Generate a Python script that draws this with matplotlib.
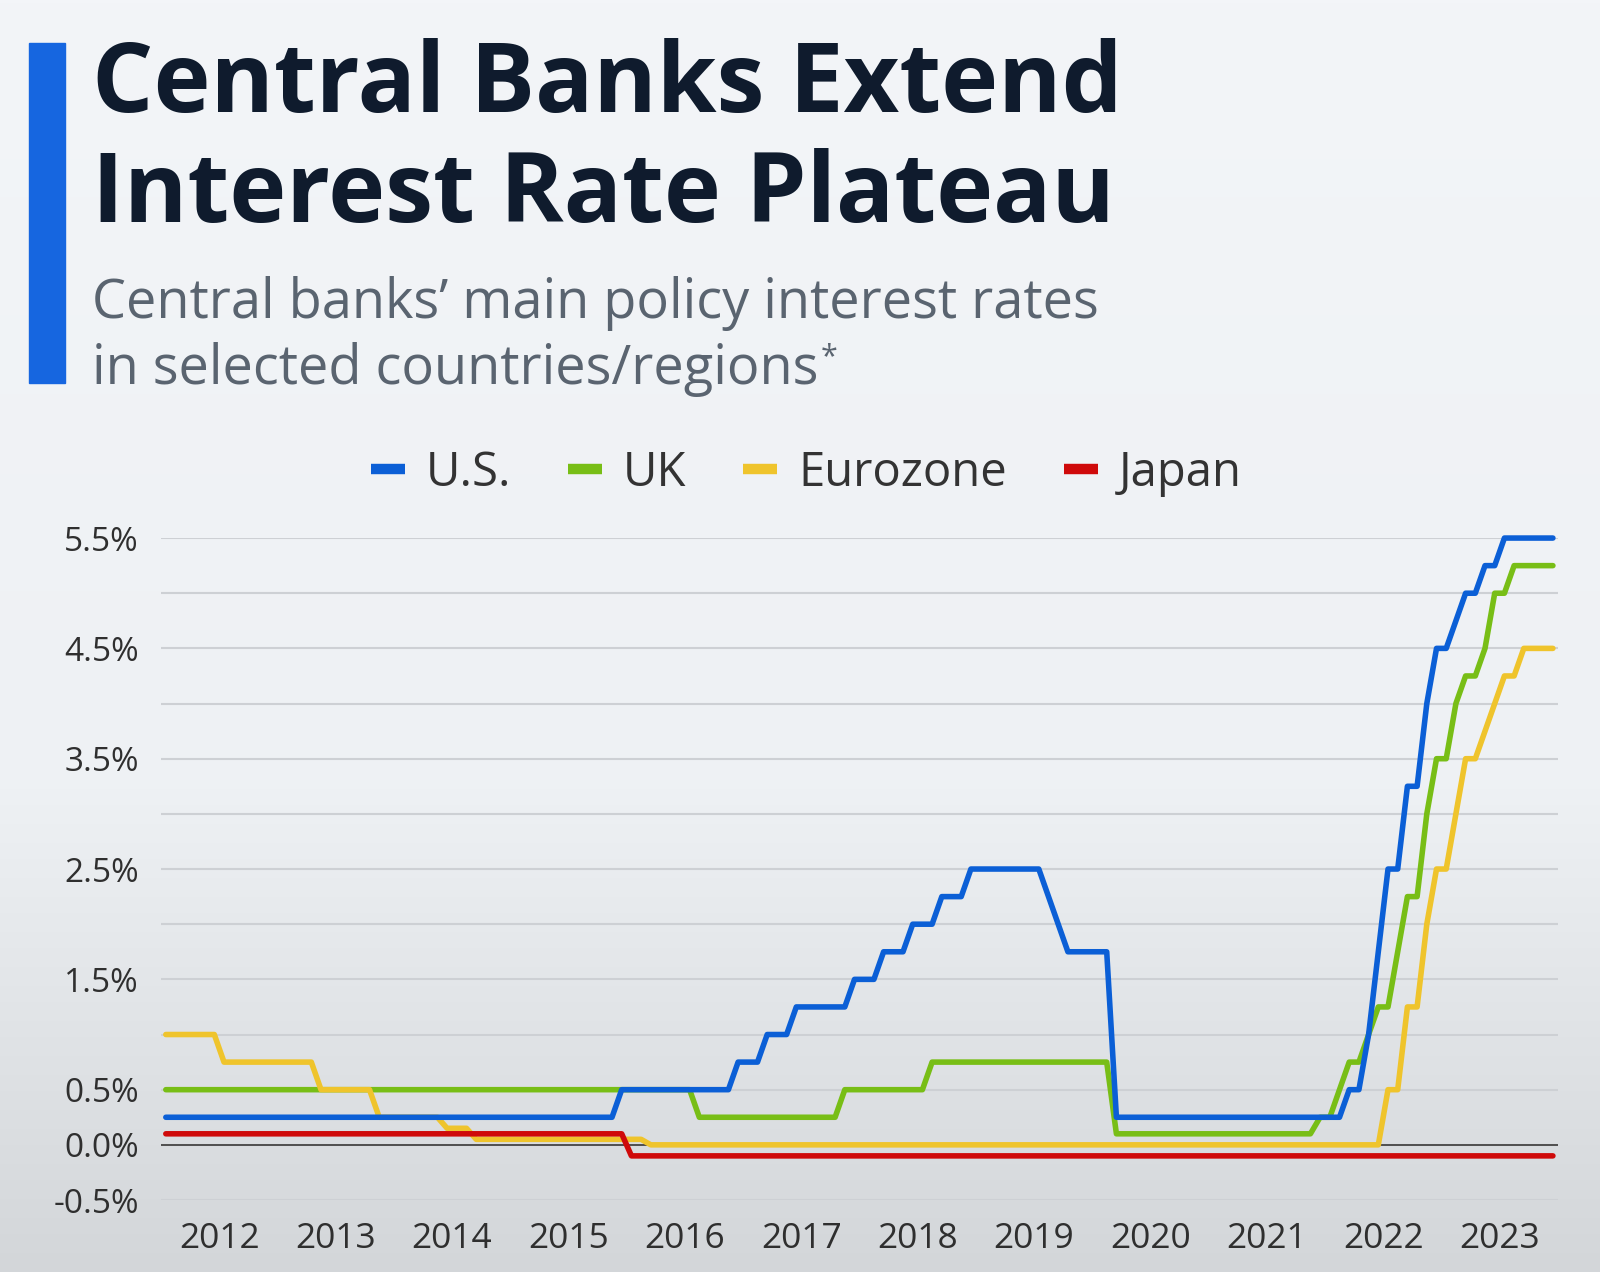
import numpy as np
import matplotlib
matplotlib.use("Agg")
import matplotlib.pyplot as plt
from matplotlib.lines import Line2D
from matplotlib.colors import to_rgb

plt.rcParams['font.family'] = ['Open Sans', 'DejaVu Sans']

# end-of-month policy rates, only the months where the line bends
us_months = ["2012-01", "2015-11", "2015-12", "2016-11", "2016-12", "2017-02", "2017-03",
             "2017-05", "2017-06", "2017-11", "2017-12", "2018-02", "2018-03", "2018-05",
             "2018-06", "2018-08", "2018-09", "2018-11", "2018-12", "2019-07", "2019-08",
             "2019-09", "2019-10", "2020-02", "2020-03", "2022-02", "2022-03", "2022-04",
             "2022-05", "2022-06", "2022-07", "2022-08", "2022-09", "2022-10", "2022-11",
             "2022-12", "2023-01", "2023-02", "2023-03", "2023-04", "2023-05", "2023-06",
             "2023-07", "2023-12"]
us_rates = [0.25, 0.25, 0.5, 0.5, 0.75, 0.75, 1.0,
            1.0, 1.25, 1.25, 1.5, 1.5, 1.75, 1.75,
            2.0, 2.0, 2.25, 2.25, 2.5, 2.5, 2.25,
            2.0, 1.75, 1.75, 0.25, 0.25, 0.5, 0.5,
            1.0, 1.75, 2.5, 2.5, 3.25, 3.25, 4.0,
            4.5, 4.5, 4.75, 5.0, 5.0, 5.25, 5.25,
            5.5, 5.5]

uk_months = ["2012-01", "2016-07", "2016-08", "2017-10", "2017-11", "2018-07", "2018-08",
             "2020-02", "2020-03", "2021-11", "2021-12", "2022-01", "2022-02", "2022-03",
             "2022-04", "2022-05", "2022-06", "2022-07", "2022-08", "2022-09", "2022-10",
             "2022-11", "2022-12", "2023-01", "2023-02", "2023-03", "2023-04", "2023-05",
             "2023-06", "2023-07", "2023-08", "2023-12"]
uk_rates = [0.5, 0.5, 0.25, 0.25, 0.5, 0.5, 0.75,
            0.75, 0.1, 0.1, 0.25, 0.25, 0.5, 0.75,
            0.75, 1.0, 1.25, 1.25, 1.75, 2.25, 2.25,
            3.0, 3.5, 3.5, 4.0, 4.25, 4.25, 4.5,
            5.0, 5.0, 5.25, 5.25]

ez_months = ["2012-01", "2012-06", "2012-07", "2013-04", "2013-05", "2013-10", "2013-11",
             "2014-05", "2014-06", "2014-08", "2014-09", "2016-02", "2016-03", "2022-06",
             "2022-07", "2022-08", "2022-09", "2022-10", "2022-11", "2022-12", "2023-01",
             "2023-02", "2023-03", "2023-04", "2023-05", "2023-06", "2023-07", "2023-08",
             "2023-09", "2023-12"]
ez_rates = [1.0, 1.0, 0.75, 0.75, 0.5, 0.5, 0.25,
            0.25, 0.15, 0.15, 0.05, 0.05, 0.0, 0.0,
            0.5, 0.5, 1.25, 1.25, 2.0, 2.5, 2.5,
            3.0, 3.5, 3.5, 3.75, 4.0, 4.25, 4.25,
            4.5, 4.5]

jp_months = ["2012-01", "2015-12", "2016-01", "2023-12"]
jp_rates = [0.1, 0.1, -0.1, -0.1]

years = list(range(2012, 2024))
year_labels = [str(y) for y in years]
ytick_vals = [-0.5, 0.0, 0.5, 1.5, 2.5, 3.5, 4.5, 5.5]
ytick_labels = ["-0.5%", "0.0%", "0.5%", "1.5%", "2.5%", "3.5%", "4.5%", "5.5%"]
grid_levels = np.arange(-0.5, 5.51, 0.5)


def to_x(months):
    # put each month in the middle of its slot
    out = []
    for m in months:
        y, mo = m.split("-")
        out.append(int(y) + (int(mo) - 0.5) / 12)
    return out


fig = plt.figure(figsize=(16, 12.72), dpi=100)

# background gradient, light at the top, greyer towards the bottom
bg = fig.add_axes([0, 0, 1, 1], zorder=-10)
stops = [0.0, 0.38, 1.0]
cols = [to_rgb("#d3d6d9"), to_rgb("#eef1f4"), to_rgb("#f3f5f8")]
fy = np.linspace(0, 1, 400)
grad = np.stack([np.interp(fy, stops, [c[i] for c in cols]) for i in range(3)], axis=-1)
bg.imshow(grad[::-1, None, :], aspect='auto', extent=[0, 1, 0, 1])
bg.axis('off')

# blue accent bar
fig.patches.append(plt.Rectangle((0.018, 0.699), 0.0225, 0.267, transform=fig.transFigure,
                                 color="#1666e0", zorder=1))

fig.text(0.0575, 0.912, "Central Banks Extend", fontsize=69.5, fontweight='bold',
         color="#0f1b2d", va='baseline')
fig.text(0.0575, 0.8255, "Interest Rate Plateau", fontsize=69.5, fontweight='bold',
         color="#0f1b2d", va='baseline')
fig.text(0.0575, 0.750, "Central banks\u2019 main policy interest rates", fontsize=39,
         color="#5a6470", va='baseline')
sub2 = fig.text(0.0575, 0.698, "in selected countries/regions", fontsize=39,
                color="#5a6470", va='baseline')
plt.annotate("*", xy=(1.0, 1.0), xycoords=sub2, xytext=(2, 0), textcoords='offset points',
             fontsize=22, color="#5a6470", va='top', ha='left')

ax = fig.add_axes([0.1006, 0.0566, 0.873, 0.5204])
ax.patch.set_alpha(0)

series = [
    ("U.S.", us_months, us_rates, "#0b5fd6", 5),
    ("UK", uk_months, uk_rates, "#78be16", 2),
    ("Eurozone", ez_months, ez_rates, "#efc42c", 3),
    ("Japan", jp_months, jp_rates, "#cf0a0a", 4),
]
for name, months, rates, color, z in series:
    ax.plot(to_x(months), rates, color=color, lw=4.0, zorder=z, clip_on=False,
            solid_capstyle='round', solid_joinstyle='round')

for g in grid_levels:
    ax.axhline(g, color="#cdd0d4", lw=1.5, zorder=0)
ax.axhline(0, color="#4f4f4f", lw=1.4, zorder=1)

ax.set_xlim(2012, 2024)
ax.set_ylim(-0.5, 5.5)
ax.set_xticks([y + 0.5 for y in years])
ax.set_xticklabels(year_labels)
ax.set_yticks(ytick_vals)
ax.set_yticklabels(ytick_labels)
ax.tick_params(axis='both', length=0, colors="#2f2f2f")
ax.tick_params(axis='y', labelsize=24, pad=16)
ax.tick_params(axis='x', labelsize=25.5, pad=16)
for s in ax.spines.values():
    s.set_visible(False)

handles = [Line2D([0], [0], color=c, lw=7.5, solid_capstyle='butt') for _, _, _, c, _ in series]
fig.legend(handles, [s[0] for s in series], loc='center', bbox_to_anchor=(0.504, 0.628),
           ncol=4, frameon=False, fontsize=34, handlelength=0.72, handletextpad=0.45,
           columnspacing=1.2, labelcolor="#333333")

fig.savefig("out.png", dpi=100)
